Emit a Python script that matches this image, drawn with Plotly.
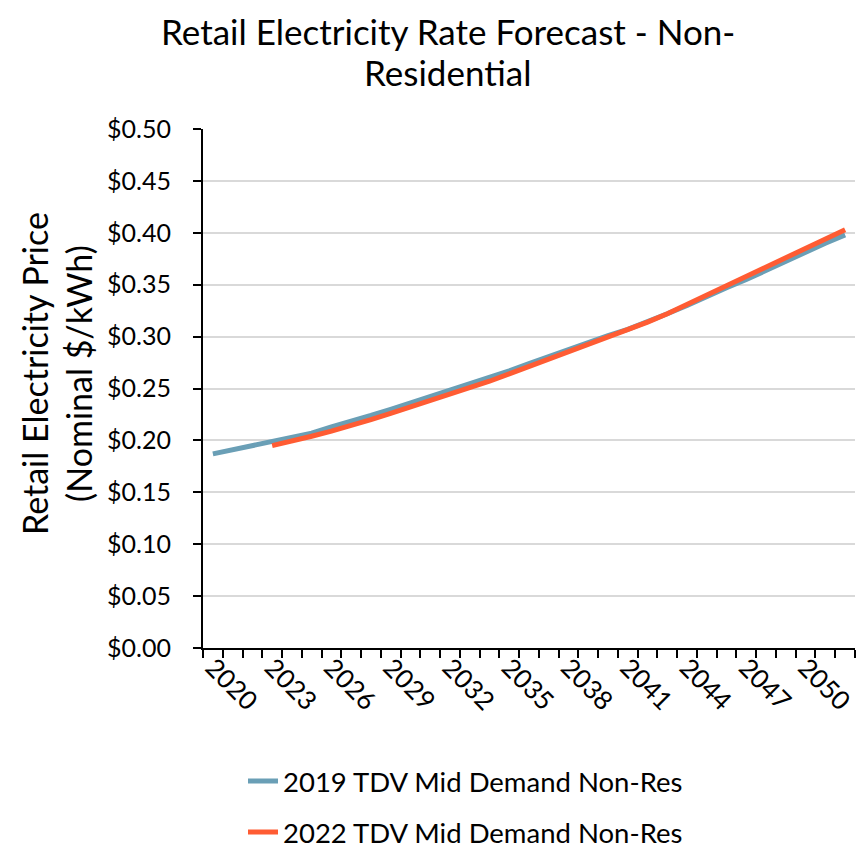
import plotly.graph_objects as go

years_2019 = list(range(2020, 2053))
vals_2019 = [0.187, 0.191, 0.194, 0.198, 0.203, 0.207, 0.213, 0.218, 0.224, 0.230,
             0.236, 0.242, 0.248, 0.254, 0.260, 0.267, 0.274, 0.281, 0.288, 0.294,
             0.301, 0.307, 0.314, 0.322, 0.330, 0.339, 0.347, 0.355, 0.364, 0.373,
             0.382, 0.390, 0.398]
years_2022 = list(range(2023, 2053))
vals_2022 = [0.195, 0.199, 0.204, 0.209, 0.214, 0.220, 0.226, 0.232, 0.238, 0.244,
             0.250, 0.257, 0.264, 0.271, 0.278, 0.285, 0.292, 0.299, 0.306, 0.314,
             0.322, 0.331, 0.339, 0.348, 0.357, 0.366, 0.375, 0.385, 0.394, 0.403]
tick_years = list(range(2020, 2051, 3))
y_ticks = [i * 0.05 for i in range(11)]
title_lines = ["Retail Electricity Rate Forecast - Non-", "Residential"]

FONT = "Lato"
BLUE = "#6a9fb6"
ORANGE = "#ff5c33"

OFF = 8  # page body margin of the saved html
W, H = 864 - OFF, 848 - OFF
PL, PR, PT, PB = 203, 855, 129, 648  # plot area in window pixels


def fx(px):
    return (px - OFF) / W


def fy(py):
    return 1 - (py - OFF) / H


fig = go.Figure()
fig.add_trace(go.Scatter(x=years_2019, y=vals_2019, mode="lines",
                         name="2019 TDV Mid Demand Non-Res",
                         line=dict(color=BLUE, width=5), legend="legend"))
fig.add_trace(go.Scatter(x=years_2022, y=vals_2022, mode="lines",
                         name="2022 TDV Mid Demand Non-Res",
                         line=dict(color=ORANGE, width=5), legend="legend2"))

fig.update_layout(
    width=W, height=H, autosize=False,
    margin=dict(l=0, r=0, t=0, b=0, pad=0, autoexpand=False),
    paper_bgcolor="white", plot_bgcolor="white",
    font=dict(family=FONT, size=24, color="#000000"),
    xaxis=dict(domain=[fx(PL), fx(PR)], automargin=False,
               range=[2019.5, 2052.5], tickmode="array", tickvals=tick_years,
               ticktext=[str(y) for y in tick_years], tickangle=45,
               ticks="", showgrid=False, showline=True, linecolor="black",
               linewidth=2, zeroline=False, ticklabelstandoff=-8,
               minor=dict(tickmode="linear", tick0=2019.5, dtick=1, ticks="outside",
                          ticklen=8, tickwidth=2, tickcolor="black", showgrid=False),
               tickfont=dict(family=FONT, size=26)),
    yaxis=dict(domain=[fy(PB), fy(PT)], automargin=False,
               range=[0, 0.5], tickmode="array", tickvals=y_ticks,
               ticktext=["$%.2f" % v for v in y_ticks],
               ticks="outside", ticklen=8, tickwidth=2, tickcolor="black",
               showline=True, linecolor="black", linewidth=2,
               showgrid=True, gridcolor="#d9d9d9", gridwidth=2, zeroline=False,
               ticklabelstandoff=17,
               tickfont=dict(family=FONT, size=25)),
    showlegend=True,
    legend=dict(x=fx(243), y=fy(781), xanchor="left", yanchor="middle",
                font=dict(family=FONT, size=27.5), bgcolor="rgba(0,0,0,0)"),
    legend2=dict(x=fx(243), y=fy(832), xanchor="left", yanchor="middle",
                 font=dict(family=FONT, size=27.5), bgcolor="rgba(0,0,0,0)"),
)

for line_text, cy in zip(title_lines, [31, 72]):
    fig.add_annotation(text=line_text,
                       xref="paper", yref="paper", x=fx(448), y=fy(cy),
                       xanchor="center", yanchor="middle", showarrow=False,
                       font=dict(family=FONT, size=35))
fig.add_annotation(text="Retail Electricity Price<br>(Nominal $/kWh)",
                   xref="paper", yref="paper", x=fx(56), y=fy(374),
                   xanchor="center", yanchor="middle", showarrow=False,
                   textangle=-90, font=dict(family=FONT, size=34))

fig.write_html("out.html")
